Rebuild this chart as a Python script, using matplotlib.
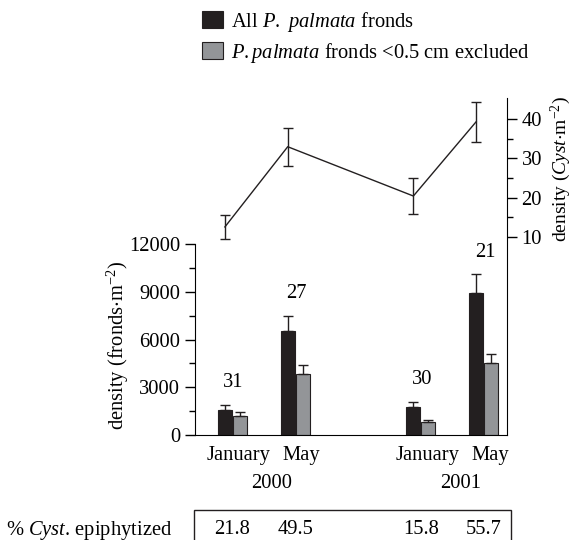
import numpy as np
import matplotlib
matplotlib.use("Agg")
import matplotlib.pyplot as plt
from matplotlib.patches import Patch, Rectangle
from matplotlib import transforms

plt.rcParams['font.family'] = 'Liberation Serif'
plt.rcParams['font.size'] = 14.8
plt.rcParams['mathtext.fontset'] = 'custom'
plt.rcParams['mathtext.rm'] = 'Liberation Serif'
plt.rcParams['mathtext.it'] = 'Liberation Serif:italic'
plt.rcParams['mathtext.default'] = 'regular'

# data
months = ["January", "May", "January", "May"]
years = ["2000", "2001"]
fronds_all = [1550, 6550, 1750, 8950]
fronds_all_err = [350, 950, 350, 1150]
fronds_excl = [1200, 3850, 800, 4500]
fronds_excl_err = [250, 550, 150, 600]
cyst_density = [12.5, 33.0, 20.4, 39.4]
cyst_err = [3.1, 4.8, 4.7, 5.1]
n_samples = [31, 27, 30, 21]
pct_epiphytized = ["21.8", "49.5", "15.8", "55.7"]

black = '#231f20'
grey = '#939598'

# x positions: months within a year, one empty slot between the years
x = np.array([0, 1, 3, 4], dtype=float)
w = 0.222
off = 0.238

fig = plt.figure(figsize=(5.73, 5.4), dpi=100)
ax = fig.add_axes([0.3403, 0.1944, 0.5445, 0.6241])

ax.bar(x, fronds_all, w, color=black, edgecolor=black, linewidth=0.8, zorder=2)
ax.bar(x + off, fronds_excl, w, color=grey, edgecolor=black, linewidth=0.8, zorder=2)
zeros = np.zeros(len(x))
ax.errorbar(x, fronds_all, yerr=[zeros, fronds_all_err], fmt='none', ecolor=black,
            elinewidth=1, capsize=3.8, capthick=1, zorder=3)
ax.errorbar(x + off, fronds_excl, yerr=[zeros, fronds_excl_err], fmt='none', ecolor=black,
            elinewidth=1, capsize=3.8, capthick=1, zorder=3)

# sample sizes above each pair
tops = np.array(fronds_all) + np.array(fronds_all_err)
for xi, t, n in zip(x + off / 2, tops, n_samples):
    ax.annotate(str(n), (xi + 0.02, t), xytext=(0, 16), textcoords='offset points',
                ha='center', va='center')

ax.set_xlim(-0.476, 4.49)
ax.set_ylim(0, 21173)
ax.set_yticks([0, 3000, 6000, 9000, 12000])
ax.set_yticks([1500, 4500, 7500, 10500], minor=True)
ax.spines['left'].set_bounds(0, 12000)
ax.spines['top'].set_visible(False)
ax.spines['right'].set_visible(False)
ax.tick_params(axis='y', which='major', length=7, width=1, direction='out')
ax.tick_params(axis='y', which='minor', length=4, width=1, direction='out')
label_x = x + off / 2 + 0.1
ax.set_xticks(label_x)
ax.set_xticklabels(months)
ax.tick_params(axis='x', length=0, pad=8)
ax.text(-0.247, 0.267, r"density (fronds$\cdot$m$^{-2}$)", transform=ax.transAxes,
        rotation=90, ha='center', va='center')

ax2 = ax.twinx()
ax2.errorbar(x, cyst_density, yerr=cyst_err, color=black, lw=1, elinewidth=1,
             capsize=3.8, capthick=1)
ax2.set_ylim(-40.68, 45.45)
ax2.set_yticks([10, 20, 30, 40])
ax2.set_yticks([15, 25, 35], minor=True)
for s in ['top', 'left', 'bottom']:
    ax2.spines[s].set_visible(False)
ax2.tick_params(axis='y', which='major', length=7, width=1, direction='out')
ax2.tick_params(axis='y', which='minor', length=4, width=1, direction='out')
ax.text(1.172, 0.789, r"density ($\mathit{Cyst}$$\cdot$m$^{-2}$)", transform=ax.transAxes,
        rotation=90, ha='center', va='center', fontsize=14)

# year labels below month labels
ytrans = transforms.blended_transform_factory(ax.transData, fig.transFigure)
for yr, i in zip(years, [0, 2]):
    ax.text((label_x[i] + label_x[i + 1]) / 2 + 0.03, (540 - 483) / 540, yr, transform=ytrans,
            ha='center', va='center')

# % epiphytized row
row_y = (540 - 530) / 540
for xi, v in zip(x + off / 2, pct_epiphytized):
    ax.text(xi, row_y, v, transform=ytrans, ha='center', va='center', clip_on=False)
fig.text(172 / 573, row_y, r"% $\mathit{Cyst}$. epiphytized", ha='right', va='center')
fig.patches.append(Rectangle((194 / 573, -0.05), (511 - 194) / 573, 0.05 + (540 - 510) / 540,
                             transform=fig.transFigure, fill=False, edgecolor=black,
                             linewidth=1, clip_on=False))

handles = [Patch(facecolor=black, edgecolor=black, linewidth=0.8),
           Patch(facecolor=grey, edgecolor=black, linewidth=0.8)]
labels = [r"All $\mathit{P.}$ $\mathit{palmata}$ fronds",
          r"$\mathit{P.palmata}$ fronds <0.5 cm excluded"]
fig.legend(handles, labels, loc='upper left', bbox_to_anchor=(202 / 573, 1 - 10 / 540),
           frameon=False, handlelength=1.0, handleheight=0.9, handletextpad=0.4,
           borderpad=0, borderaxespad=0, labelspacing=0.32)

fig.savefig("out.png", dpi=100)
